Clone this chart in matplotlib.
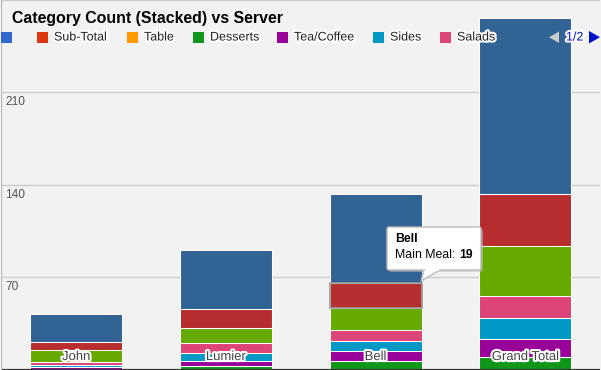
import matplotlib
matplotlib.use("Agg")
import matplotlib.pyplot as plt
import matplotlib.patheffects as pe
from matplotlib.patches import Rectangle, Polygon, FancyBboxPatch

plt.rcParams['font.family'] = ['Liberation Sans', 'DejaVu Sans']

# ---------------- data ----------------
categories = ['John', 'Lumier', 'Bell', 'Grand Total']
legend_labels = ['', 'Sub-Total', 'Table', 'Desserts', 'Tea/Coffee', 'Sides', 'Salads']
legend_colors = ['#3366cc', '#dc3912', '#ff9900', '#109618', '#990099', '#0099c6', '#dd4477']

# stacked series, bottom to top
desserts   = [0, 3, 7, 10]
tea_coffee = [2, 4, 7, 13]
sides      = [2, 6, 8, 16]
salads     = [2, 7, 8, 17]
series_lime = [9, 12, 17, 38]
main_meal  = [6, 14, 19, 39]
series_top = [21, 45, 67, 133]

stack = [desserts, tea_coffee, sides, salads, series_lime, main_meal, series_top]
stack_colors = ['#109618', '#990099', '#0099c6', '#dd4477', '#66aa00', '#b82e2e', '#316395']

y_ticks = [70, 140, 210]
tooltip_cat = 'Bell'
tooltip_series = 'Main Meal'

W, H = 601, 370
fig = plt.figure(figsize=(W / 100, H / 100), dpi=100)
fig.patch.set_facecolor('#f2f2f2')

ax = fig.add_axes([1.2 / W, 0.0, 599 / W, 1.0])
ax.set_facecolor('#f2f2f2')
ax.set_xlim(-0.5, len(categories) - 0.5)
ax.set_ylim(-0.15, 280)
for s in ax.spines.values():
    s.set_visible(False)
ax.set_xticks([])
ax.set_yticks([])

for t in y_ticks + [280]:
    ax.axhline(t, color='#cccccc', lw=1.0, zorder=0.5)
    if t in y_ticks:
        ax.annotate(str(t), xy=(0, t), xycoords=('axes fraction', 'data'),
                    xytext=(4, -10), textcoords='offset pixels',
                    ha='left', va='center', fontsize=8.6, color='#555555')

bottoms = [0] * len(categories)
bw = 0.615
for vals, col in zip(stack, stack_colors):
    ax.bar(range(len(categories)), vals, width=bw, bottom=bottoms, color=col,
           edgecolor='white', linewidth=0.75, zorder=2)
    bottoms = [b + v for b, v in zip(bottoms, vals)]

# highlighted segment
ci = categories.index(tooltip_cat)
hb = sum(v[ci] for v in stack[:5])
ax.add_patch(Rectangle((ci - bw / 2, hb), bw, main_meal[ci], fill=False,
                       edgecolor='#9a9a9a', lw=1.2, zorder=3))

ax.axhline(0, color='#333333', lw=1.6, zorder=4)
ax.axvline(-0.5, color='#bbbbbb', lw=1.0, zorder=4)

halo = [pe.withStroke(linewidth=3, foreground='white')]
for i, c in enumerate(categories):
    ax.text(i, 0.035, c, transform=ax.get_xaxis_transform(), ha='center', va='center',
            fontsize=9.4, color='#444444', path_effects=halo, zorder=5)

# overlay in pixel coordinates
ov = fig.add_axes([0, 0, 1, 1])
ov.set_xlim(0, W)
ov.set_ylim(H, 0)
ov.axis('off')
ov.patch.set_alpha(0)

ov.text(12, 18, 'Category Count (Stacked) vs Server', fontsize=11.4, fontweight='bold',
        ha='left', va='center', color='#000000')

sq_x = [1, 37, 127, 193, 277, 373, 440]
for x, lab, col in zip(sq_x, legend_labels, legend_colors):
    ov.add_patch(Rectangle((x, 31.5), 11, 11, color=col, lw=0))
    if lab:
        ov.text(x + 17, 37.5, lab, fontsize=9.0, ha='left', va='center', color='#222222',
                path_effects=halo)

ov.add_patch(Polygon([(559, 31.5), (559, 43), (549, 37.2)], closed=True, color='#cccccc', lw=0))
ov.text(566, 37.5, '1/2', fontsize=9.0, ha='left', va='center', color='#0011cc',
        path_effects=halo)
ov.add_patch(Polygon([(589, 31), (589, 43.5), (600, 37.2)], closed=True, color='#0011cc', lw=0))

# tooltip
ov.add_patch(FancyBboxPatch((389, 229), 94, 43, boxstyle='round,pad=0,rounding_size=2',
                            facecolor='#bbbbbb', edgecolor='none', alpha=0.5, zorder=6))
ov.add_patch(Polygon([(424, 270), (440, 270), (421, 281)], closed=True, facecolor='white',
                     edgecolor='#bbbbbb', lw=1, zorder=7))
ov.add_patch(FancyBboxPatch((387, 227), 94, 43, boxstyle='round,pad=0,rounding_size=2',
                            facecolor='white', edgecolor='#bbbbbb', lw=1, zorder=8))
ov.add_patch(Rectangle((425, 268), 14, 3, facecolor='white', edgecolor='none', zorder=9))
ov.text(395, 239, tooltip_cat, fontsize=8.8, fontweight='bold', ha='left', va='center',
        color='#000000', zorder=10)
t1 = ov.text(395, 255, tooltip_series + ': ', fontsize=8.8, ha='left', va='center',
             color='#000000', zorder=10)
fig.canvas.draw()
bb = t1.get_window_extent()
inv = ov.transData.inverted()
x_end = inv.transform((bb.x1, bb.y0))[0]
ov.text(x_end, 255, str(main_meal[ci]), fontsize=8.8, fontweight='bold', ha='left',
        va='center', color='#000000', zorder=10)

fig.savefig('out.png', dpi=100, facecolor=fig.get_facecolor())
